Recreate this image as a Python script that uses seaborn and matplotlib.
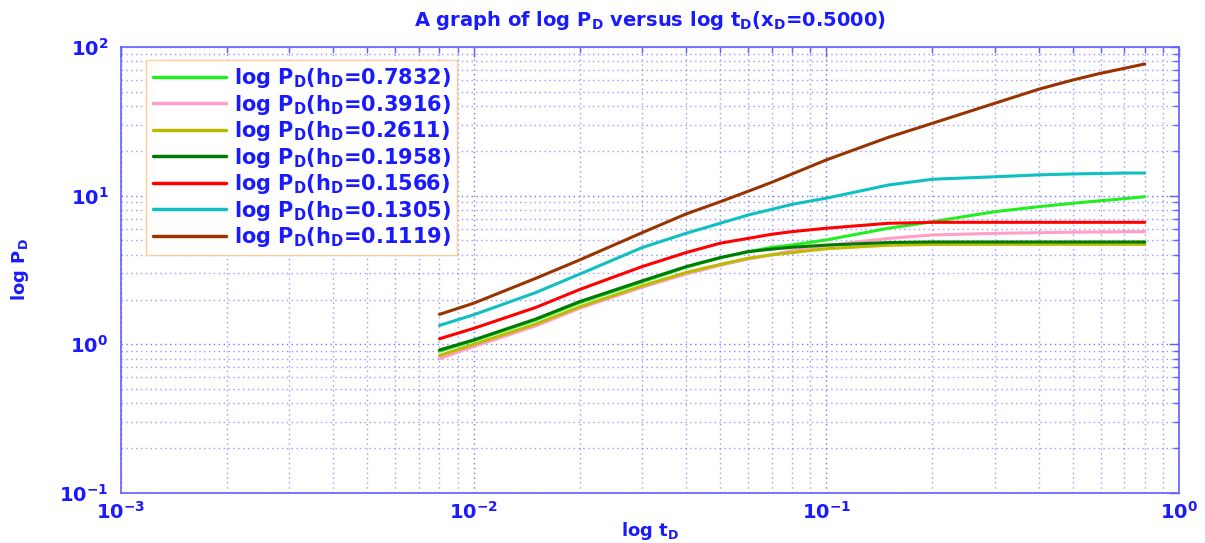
import numpy as np
import pandas as pd
import matplotlib
matplotlib.use("Agg")
import matplotlib.pyplot as plt
import seaborn as sns

# Dimensionless time (t_D) sample points
t_d = [0.008, 0.01, 0.015, 0.02, 0.03, 0.04, 0.05, 0.06, 0.07, 0.08,
       0.1, 0.15, 0.2, 0.3, 0.4, 0.5, 0.6, 0.7, 0.8]

# Dimensionless pressure P_D for each h_D
p_07832 = [0.90, 1.06, 1.46, 1.91, 2.63, 3.30, 3.82, 4.20, 4.49, 4.66,
           5.04, 6.04, 6.68, 7.80, 8.43, 8.89, 9.25, 9.55, 9.84]
p_03916 = [0.80, 0.966, 1.33, 1.75, 2.42, 2.97, 3.40, 3.75, 4.00, 4.28,
           4.62, 5.16, 5.44, 5.58, 5.64, 5.68, 5.70, 5.72, 5.73]
p_02611 = [0.84, 1.00, 1.37, 1.79, 2.47, 3.04, 3.45, 3.79, 4.00, 4.14,
           4.40, 4.64, 4.70, 4.71, 4.71, 4.71, 4.71, 4.71, 4.71]
p_01958 = [0.916, 1.07, 1.48, 1.94, 2.67, 3.33, 3.83, 4.20, 4.37, 4.50,
           4.65, 4.84, 4.88, 4.88, 4.88, 4.88, 4.88, 4.88, 4.88]
p_01566 = [1.09, 1.28, 1.77, 2.34, 3.33, 4.14, 4.79, 5.16, 5.50, 5.73,
           6.04, 6.52, 6.62, 6.62, 6.62, 6.62, 6.62, 6.62, 6.62]
p_01305 = [1.34, 1.58, 2.23, 2.97, 4.47, 5.58, 6.52, 7.41, 8.09, 8.75,
           9.62, 11.8, 12.9, 13.4, 13.8, 14.0, 14.1, 14.2, 14.2]
p_01119 = [1.59, 1.89, 2.78, 3.70, 5.63, 7.53, 9.10, 10.7, 12.3, 14.0,
           17.4, 24.7, 30.7, 41.8, 52.0, 60.0, 66.6, 71.9, 76.9]

h_labels = ["0.7832", "0.3916", "0.2611", "0.1958", "0.1566", "0.1305", "0.1119"]
series = [p_07832, p_03916, p_02611, p_01958, p_01566, p_01305, p_01119]
colors = ["#22ee22", "#ff9fc8", "#bbbb00", "#007a00", "#ff0000", "#10c0c0", "#993300"]

x_ticks = [1e-3, 1e-2, 1e-1, 1e0]
x_tick_labels = [r"$\rm 10^{-3}$", r"$\rm 10^{-2}$", r"$\rm 10^{-1}$", r"$\rm 10^{0}$"]
y_ticks = [1e-1, 1e0, 1e1, 1e2]
y_tick_labels = [r"$\rm 10^{-1}$", r"$\rm 10^{0}$", r"$\rm 10^{1}$", r"$\rm 10^{2}$"]

sns.set_style("white")
plt.rcParams["font.family"] = ["DejaVu Sans"]
plt.rcParams["font.weight"] = "bold"
plt.rcParams["mathtext.fontset"] = "custom"
plt.rcParams["mathtext.rm"] = "DejaVu Sans:bold"
plt.rcParams["mathtext.it"] = "DejaVu Sans:bold"
plt.rcParams["mathtext.bf"] = "DejaVu Sans:bold"

blue = "#1a1aff"
axis_blue = "#6060ff"

rows = []
for lab, vals in zip(h_labels, series):
    name = r"log P$_{\rm D}$(h$_{\rm D}$=" + lab + ")"
    for t, p in zip(t_d, vals):
        rows.append({"t": t, "P": p, "series": name})
df = pd.DataFrame(rows)
names = list(dict.fromkeys(df["series"]))

fig = plt.figure(figsize=(12.05, 5.43), dpi=100)
ax = fig.add_axes([0.1004, 0.0921, 0.8780, 0.8213])

sns.lineplot(data=df, x="t", y="P", hue="series", hue_order=names,
             palette=dict(zip(names, colors)), linewidth=2.2, ax=ax,
             sort=False, estimator=None)

ax.set_xscale("log")
ax.set_yscale("log")
ax.set_xlim(1e-3, 1e0)
ax.set_ylim(1e-1, 1e2)

ax.set_xticks(x_ticks)
ax.set_xticklabels(x_tick_labels)
ax.set_yticks(y_ticks)
ax.set_yticklabels(y_tick_labels)
ax.tick_params(axis="both", which="major", labelsize=14, labelcolor=blue,
               color=axis_blue, direction="in", length=7, width=1,
               top=True, right=True)
ax.tick_params(axis="x", which="major", pad=6)
ax.tick_params(axis="y", which="major", pad=9)
ax.tick_params(axis="both", which="minor", color=axis_blue, direction="in",
               length=4, width=1, top=True, right=True)

for sp in ax.spines.values():
    sp.set_color(axis_blue)
    sp.set_linewidth(1.2)

ax.grid(True, which="major", linestyle=(0, (1, 2.5)), color="#4444ff", linewidth=1.0, alpha=0.75)
ax.grid(True, which="minor", linestyle=(0, (1, 2.5)), color="#5555ff", linewidth=1.0, alpha=0.6)

ax.set_title(r"A graph of log P$_{\rm D}$ versus log t$_{\rm D}$(x$_{\rm D}$=0.5000)",
             color=blue, fontsize=14, fontweight="bold", pad=15)
ax.set_xlabel(r"log t$_{\rm D}$", color=blue, fontsize=13, fontweight="bold", labelpad=-2)
ax.set_ylabel(r"log P$_{\rm D}$", color=blue, fontsize=13, fontweight="bold", labelpad=20)

leg = ax.legend(loc="upper left", bbox_to_anchor=(0.024, 0.971), frameon=True,
                fancybox=False, framealpha=1, edgecolor="#ffcc99",
                prop={"family": "DejaVu Sans", "weight": "bold", "size": 15},
                handlelength=3.5, handletextpad=0.4, labelspacing=0.12,
                borderpad=0.3, borderaxespad=0)
for txt in leg.get_texts():
    txt.set_color(blue)
for line in leg.get_lines():
    line.set_linewidth(2.5)

fig.savefig("out.png", dpi=100)
